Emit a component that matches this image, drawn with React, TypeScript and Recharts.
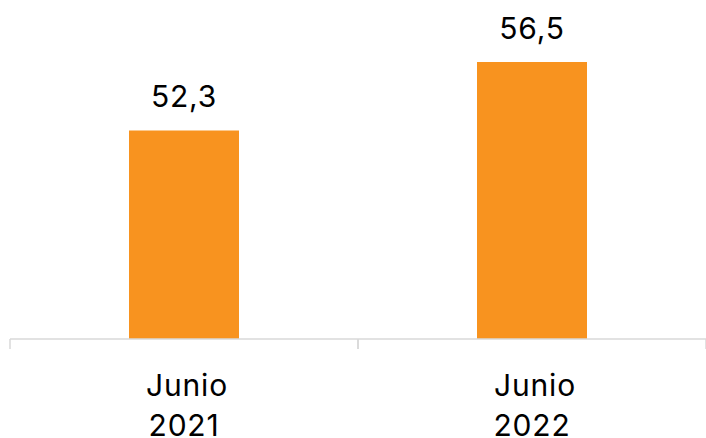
import { Bar, BarChart, LabelList, XAxis, YAxis } from 'recharts';

const periods = ['Junio 2021', 'Junio 2022'];
const values = [52.3, 56.5];

const BAR_COLOR = '#F8931F';
const AXIS_COLOR = '#D9D9D9';
const FONT = 'Inter, Roboto, sans-serif';

const data = periods.map((period, i) => ({ period, value: values[i] }));

const fmt = (v: number | string) => Number(v).toFixed(1).replace('.', ',');

interface TickProps {
  x?: number;
  y?: number;
  payload?: { value: string; offset?: number };
}

const PeriodTick = ({ x = 0, y = 0, payload }: TickProps) => {
  if (!payload) return null;
  const half = payload.offset ?? 174;
  const [month, year] = String(payload.value).split(' ');
  return (
    <g>
      <line x1={x - half} x2={x - half} y1={y - 8} y2={y + 2} stroke={AXIS_COLOR} strokeWidth={1.5} />
      <line x1={x + half} x2={x + half} y1={y - 8} y2={y + 2} stroke={AXIS_COLOR} strokeWidth={1.5} />
      <text textAnchor="middle" fill="#000" fontSize={30} fontFamily={FONT} letterSpacing={0.8}>
        <tspan x={x + 3} y={y + 49}>{month}</tspan>
        <tspan x={x} y={y + 89}>{year}</tspan>
      </text>
    </g>
  );
};

export default function App() {
  return (
    <div style={{ position: 'absolute', left: 0, top: 0, background: '#fff' }}>
      <BarChart
        width={706}
        height={438}
        data={data}
        margin={{ top: 5, right: 0, bottom: 0, left: 10 }}
        barSize={110}
      >
        <XAxis
          dataKey="period"
          height={99}
          interval={0}
          tickLine={false}
          axisLine={{ stroke: AXIS_COLOR, strokeWidth: 1.5 }}
          tick={<PeriodTick />}
        />
        <YAxis hide domain={[39.5, 60]} allowDataOverflow />
        <Bar dataKey="value" fill={BAR_COLOR} isAnimationActive={false}>
          <LabelList
            dataKey="value"
            position="top"
            offset={23}
            formatter={fmt}
            fill="#000"
            fontSize={30}
            fontFamily={FONT}
            letterSpacing={0.8}
          />
        </Bar>
      </BarChart>
    </div>
  );
}
